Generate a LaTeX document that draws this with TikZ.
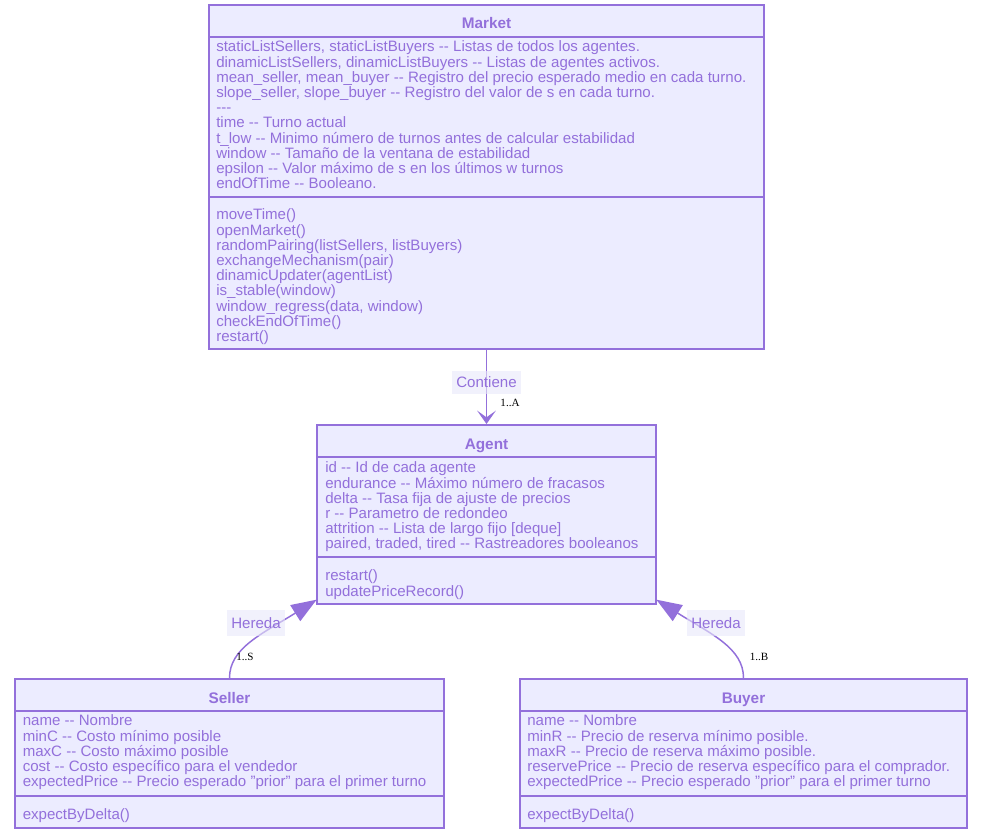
\documentclass[tikz,border=0pt]{standalone}
\usepackage{fontspec}
\setmainfont{Liberation Sans}
\newfontfamily\cardfont{Liberation Serif}
\usetikzlibrary{arrows.meta,fit}
\definecolor{umlfill}{HTML}{ECECFF}
\definecolor{umlline}{HTML}{9370DB}
\definecolor{lblbg}{HTML}{E8E8FA}
\newcommand{\ddsh}{-\kern0pt-\kern0pt}
\newcommand{\fl}{\rule{0pt}{8.5pt}}
\begin{document}
\begin{tikzpicture}[x=0.75pt,y=-0.75pt,
  box/.style={draw=umlline, fill=umlfill, line width=1.5pt, inner sep=0pt},
  divline/.style={draw=umlline, line width=1.5pt},
  txt/.style={anchor=north west, align=left, inner sep=0pt, text=umlline,
     font={\fontsize{11.3pt}{11.4pt}\selectfont}},
  ttl/.style={anchor=base, inner sep=0pt, text=umlline,
     font={\fontsize{11.5pt}{11.4pt}\selectfont\bfseries}},
  edge/.style={draw=umlline, line width=1.1pt},
  elabel/.style={fill=lblbg, fill opacity=0.6, text opacity=1, text=umlline,
     inner sep=0pt, font={\fontsize{11.3pt}{11.4pt}\selectfont}},
  card/.style={inner sep=0pt, text=black, font={\cardfont\fontsize{8.3pt}{9pt}\selectfont}},
  inh/.style={-{Triangle[length=19pt,width=14pt,fill=umlline]}},
  contain/.style={-{Stealth[length=10pt,width=14pt,inset=5pt]}}
]
\fill[white] (0,0) rectangle (981,838);
\useasboundingbox (0,0) rectangle (981,838);

% Market
\node[box, fit={(209,5) (764,349)}] (market) {};
\draw[divline] (209,37) -- (764,37);
\draw[divline] (209,197) -- (764,197);
\node[ttl] (markett) at (486.5,28.5) {Market};
\node[txt] (marketa) at (216,40.3) {\fl staticListSellers, staticListBuyers \ddsh{} Listas de todos los agentes.\\
dinamicListSellers, dinamicListBuyers \ddsh{} Listas de agentes activos.\\
mean\_seller, mean\_buyer \ddsh{} Registro del precio esperado medio en cada turno.\\
slope\_seller, slope\_buyer \ddsh{} Registro del valor de s en cada turno.\\
-\kern0pt-\kern0pt-\\
time \ddsh{} Turno actual\\
t\_low \ddsh{} Minimo número de turnos antes de calcular estabilidad\\
window \ddsh{} Tamaño de la ventana de estabilidad\\
epsilon \ddsh{} Valor máximo de s en los últimos w turnos\\
endOfTime \ddsh{} Booleano.};
\node[txt] (marketm) at (216,208.3) {\fl moveTime()\\
openMarket()\\
randomPairing(listSellers, listBuyers)\\
exchangeMechanism(pair)\\
dinamicUpdater(agentList)\\
is\_stable(window)\\
window\_regress(data, window)\\
checkEndOfTime()\\
restart()};

% Agent
\node[box, fit={(317,425) (656,604)}] (agent) {};
\draw[divline] (317,457) -- (656,457);
\draw[divline] (317,557) -- (656,557);
\node[ttl] (agentt) at (486.5,449) {Agent};
\node[txt] (agenta) at (325,461.3) {\fl id \ddsh{} Id de cada agente\\
endurance \ddsh{} Máximo número de fracasos\\
delta \ddsh{} Tasa fija de ajuste de precios\\
r \ddsh{} Parametro de redondeo\\
attrition \ddsh{} Lista de largo fijo [deque]\\
paired, traded, tired \ddsh{} Rastreadores booleanos};
\node[txt] (agentm) at (325,569.3) {\fl restart()\\
updatePriceRecord()};

% Seller
\node[box, fit={(15,679) (444,828)}] (seller) {};
\draw[divline] (15,711) -- (444,711);
\draw[divline] (15,796) -- (444,796);
\node[ttl] (sellert) at (229.5,703) {Seller};
\node[txt] (sellera) at (22.5,714.3) {\fl name \ddsh{} Nombre\\
minC \ddsh{} Costo mínimo posible\\
maxC \ddsh{} Costo máximo posible\\
cost \ddsh{} Costo específico para el vendedor\\
expectedPrice \ddsh{} Precio esperado "prior" para el primer turno};
\node[txt] (sellerm) at (22.5,808.3) {\fl expectByDelta()};

% Buyer
\node[box, fit={(520,679) (967,828)}] (buyer) {};
\draw[divline] (520,711) -- (967,711);
\draw[divline] (520,796) -- (967,796);
\node[ttl] (buyert) at (743.5,703) {Buyer};
\node[txt] (buyera) at (527,714.3) {\fl name \ddsh{} Nombre\\
minR \ddsh{} Precio de reserva mínimo posible.\\
maxR \ddsh{} Precio de reserva máximo posible.\\
reservePrice \ddsh{} Precio de reserva específico para el comprador.\\
expectedPrice \ddsh{} Precio esperado "prior" para el primer turno};
\node[txt] (buyerm) at (527,808.3) {\fl expectByDelta()};

% Edges
\draw[edge, contain] (market) -- (agent);
\draw[edge, inh] (seller.north) .. controls (229.5,648) and (262,634) .. ([xshift=0.5pt,yshift=4pt]agent.south west);
\draw[edge, inh] (buyer.north) .. controls (743.5,648) and (711,634) .. ([xshift=-0.5pt,yshift=4pt]agent.south east);

% Labels
\node[elabel, minimum width=69*0.75pt, minimum height=23*0.75pt] (lcont) at (486.5,382.5) {Contiene};
\node[elabel, minimum width=58*0.75pt, minimum height=26*0.75pt] (lher1) at (256,623) {Hereda};
\node[elabel, minimum width=58*0.75pt, minimum height=26*0.75pt] (lher2) at (716,623) {Hereda};
\node[card] (ca) at (510,403) {1..A};
\node[card] (cs) at (245,657) {1..S};
\node[card] (cb) at (759,657) {1..B};
\end{tikzpicture}
\end{document}
